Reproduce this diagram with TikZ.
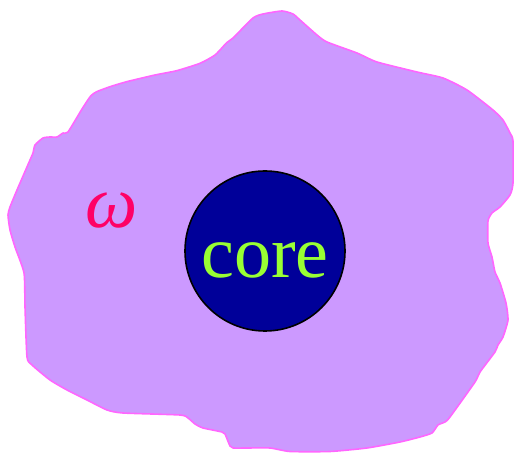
\documentclass[tikz,border=0pt]{standalone}
\usepackage{fontspec}
\newfontfamily\labelfont{Liberation Serif}
\definecolor{blobfill}{HTML}{CC99FF}
\definecolor{blobline}{HTML}{FF66FF}
\definecolor{omegared}{HTML}{FF0066}
\definecolor{corefill}{HTML}{000099}
\definecolor{coretext}{HTML}{99FF33}
\tikzset{
  blob/.style={fill=blobfill, draw=blobline, line width=0.8pt, line join=round},
  corecircle/.style={circle, fill=corefill, draw=black, line width=0.8pt, minimum size=80pt, inner sep=0pt},
  corelabel/.style={text=coretext, inner sep=0pt, font=\labelfont\fontsize{37}{40}\selectfont},
  domainlabel/.style={text=omegared, inner sep=0pt, font=\labelfont\itshape\fontsize{37}{40}\selectfont}
}
\begin{document}
\begin{tikzpicture}[x=0.5pt, y=-0.5pt]
        \useasboundingbox (0,0) rectangle (514,453);

        % Irregular domain
        \draw[blob] plot[smooth cycle, tension=0.35] coordinates {
            (282,11) (293,14) (300,20) (317,35) (327,42) (357,53) (377,62)
            (417,72) (443,78) (467,90) (493,110) (503,120) (510,133) (513,141)
            (513,183) (510,195) (500,207) (492,213) (488,221) (488,243)
            (492,257) (495,272) (500,283) (506,303) (508,320) (503,337)
            (498,345) (495,352) (480,372) (475,382) (450,417) (445,422)
            (438,425) (432,433) (420,437) (400,442) (367,448) (330,451.5)
            (290,451.5) (270,448) (247,448) (233,448) (230,446) (225,434)
            (222,432) (203,428) (195,424) (188,418) (180,415) (123,413)
            (107,410) (87,400) (67,390) (50,380) (32,365) (27,357) (25,307)
            (24,273) (15,247) (10,230) (8,215) (10,207) (17,190) (30,160)
            (33,153) (35,145) (43,138) (50,137) (57,137) (63,133) (68,132)
            (82,109) (90.7,96) (96.7,91.7) (110,86.7) (126.7,81.7) (155,75)
            (176.7,70.7) (200,63.3) (215,55) (226.7,42.7) (233,38) (253,18)
            (263,14)};

        % Core and labels
        \node[corecircle] (core) at (265,251) {};
        \node[corelabel] (coretxt) at ([yshift=-4.5pt]core.center) {core};
        \node[domainlabel] (omega) at (112,211) {ω};
\end{tikzpicture}
\end{document}
